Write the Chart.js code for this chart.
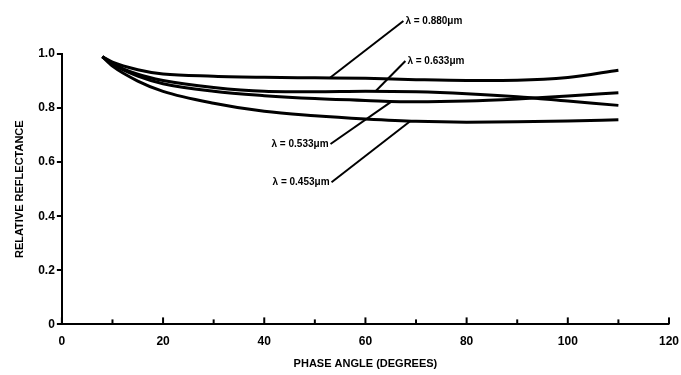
<!DOCTYPE html>
<html>
<head>
<meta charset="utf-8">
<script src="https://cdn.jsdelivr.net/npm/chart.js@4"></script>
<style>
  html, body { margin: 0; padding: 0; background: #fff; }
  #wrap { width: 681px; height: 375px; }
</style>
</head>
<body>
<div id="wrap"><canvas id="reflChart"></canvas></div>
<script>
// phase angle (degrees) sampled along the curves
const angles = [8, 10, 15, 20, 30, 40, 50, 60, 70, 80, 90, 100, 110];

// relative reflectance per wavelength
const r880 = [0.99, 0.97, 0.942, 0.926, 0.918, 0.914, 0.912, 0.91, 0.905, 0.902, 0.903, 0.913, 0.94];
const r633 = [0.99, 0.965, 0.925, 0.902, 0.876, 0.862, 0.86, 0.862, 0.86, 0.853, 0.842, 0.826, 0.81];
const r533 = [0.99, 0.962, 0.918, 0.89, 0.862, 0.846, 0.835, 0.828, 0.823, 0.826, 0.834, 0.845, 0.857];
const r453 = [0.99, 0.955, 0.9, 0.862, 0.818, 0.788, 0.772, 0.76, 0.751, 0.748, 0.749, 0.752, 0.757];

const seriesNames = ['λ = 0.880μm', 'λ = 0.633μm', 'λ = 0.533μm', 'λ = 0.453μm'];

// callout text anchors and leader end points, in data units
const labelAt = [[67.5, 1.122], [67.9, 0.974], [53.1, 0.667], [53.3, 0.526]];
const leaderTo = [[53, 0.912], [62, 0.862], [65.2, 0.825], [68.9, 0.752]];
const labelAlign = ['left', 'left', 'right', 'right'];

const FONT = "'Liberation Sans', Arial, sans-serif";

function toPoints(values) {
    return angles.map((a, i) => ({ x: a, y: values[i] }));
}

const calloutPlugin = {
    id: 'callouts',
    afterDatasetsDraw(chart) {
        const { ctx, scales: { x, y } } = chart;
        ctx.save();
        ctx.strokeStyle = '#000';
        ctx.lineWidth = 2;
        ctx.fillStyle = '#000';
        ctx.font = 'bold 10px ' + FONT;
        ctx.textBaseline = 'middle';
        seriesNames.forEach((name, i) => {
            const lx = x.getPixelForValue(labelAt[i][0]);
            const ly = y.getPixelForValue(labelAt[i][1]);
            const ex = x.getPixelForValue(leaderTo[i][0]);
            const ey = y.getPixelForValue(leaderTo[i][1]);
            ctx.beginPath();
            ctx.moveTo(lx, ly);
            ctx.lineTo(ex, ey);
            ctx.stroke();
            ctx.textAlign = labelAlign[i];
            const off = labelAlign[i] === 'left' ? 2 : -2;
            ctx.fillText(name, lx + off, ly);
        });
        ctx.restore();
    }
};

// x ticks point up into the plot
const innerTicksPlugin = {
    id: 'innerTicks',
    afterDraw(chart) {
        const { ctx, scales: { x } } = chart;
        const base = chart.chartArea.bottom;
        ctx.save();
        ctx.strokeStyle = '#000';
        ctx.lineWidth = 2;
        x.ticks.forEach(t => {
            const px = x.getPixelForValue(t.value);
            ctx.beginPath();
            ctx.moveTo(px, base);
            ctx.lineTo(px, base - (t.value % 20 === 0 ? 7 : 5));
            ctx.stroke();
        });
        ctx.restore();
    }
};

document.addEventListener('DOMContentLoaded', () => {
    const ctx = document.getElementById('reflChart').getContext('2d');
    const lineStyle = {
        borderColor: '#000',
        borderWidth: 3,
        pointRadius: 0,
        fill: false,
        cubicInterpolationMode: 'monotone'
    };

    new Chart(ctx, {
        type: 'line',
        data: {
            datasets: [
                { label: seriesNames[0], data: toPoints(r880), ...lineStyle },
                { label: seriesNames[1], data: toPoints(r633), ...lineStyle },
                { label: seriesNames[2], data: toPoints(r533), ...lineStyle },
                { label: seriesNames[3], data: toPoints(r453), ...lineStyle }
            ]
        },
        options: {
            responsive: true,
            maintainAspectRatio: false,
            animation: false,
            layout: { padding: { top: 54, right: 0, left: 13, bottom: 4 } },
            plugins: {
                legend: { display: false },
                tooltip: { enabled: false }
            },
            scales: {
                x: {
                    type: 'linear',
                    min: 0,
                    max: 120,
                    grid: { display: false },
                    border: { display: true, color: '#000', width: 2 },
                    ticks: {
                        stepSize: 10,
                        autoSkip: false,
                        maxRotation: 0,
                        padding: 2,
                        color: '#000',
                        font: { family: FONT, size: 12, weight: 'bold' },
                        callback: v => (v % 20 === 0 ? String(v) : '')
                    },
                    title: {
                        display: true,
                        text: 'PHASE ANGLE (DEGREES)',
                        color: '#000',
                        font: { family: FONT, size: 11, weight: 'bold' },
                        padding: { top: 7, bottom: 0 }
                    }
                },
                y: {
                    min: 0,
                    max: 1,
                    grid: { display: true, drawOnChartArea: false, drawTicks: true, tickLength: 5, color: '#000', lineWidth: 2 },
                    border: { display: true, color: '#000', width: 2 },
                    ticks: {
                        stepSize: 0.2,
                        padding: 2,
                        color: '#000',
                        font: { family: FONT, size: 12, weight: 'bold' },
                        callback: v => (v === 0 ? '0' : v.toFixed(1))
                    },
                    title: {
                        display: true,
                        text: 'RELATIVE REFLECTANCE',
                        color: '#000',
                        font: { family: FONT, size: 11, weight: 'bold' },
                        padding: { top: 0, bottom: 10 }
                    }
                }
            }
        },
        plugins: [calloutPlugin, innerTicksPlugin]
    });
});
</script>
</body>
</html>
